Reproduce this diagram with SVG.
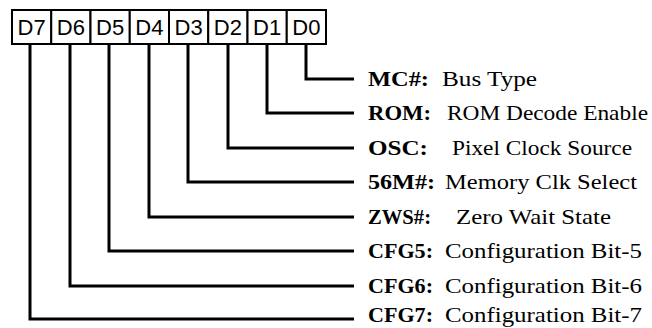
<svg xmlns="http://www.w3.org/2000/svg" width="652" height="328" viewBox="0 0 652 328">
<style>
.box{fill:#fff;stroke:#000;stroke-width:2}
.bt{font-family:"Liberation Sans",Arial,sans-serif;font-size:22px;fill:#000;text-anchor:middle}
.wire{fill:none;stroke:#000;stroke-width:3;stroke-linejoin:miter;stroke-linecap:butt}
.nm{font-family:"Liberation Serif","Times New Roman",serif;font-size:21px;font-weight:bold;fill:#000}
.ds{font-family:"Liberation Serif","Times New Roman",serif;font-size:21px;fill:#000}
</style>
<rect width="652" height="328" fill="#fff"/>
<g id="connectors">
<polyline class="wire" points="306,44 306,79 354,79"/>
<polyline class="wire" points="267,44 267,113 354,113"/>
<polyline class="wire" points="228,44 228,148 354,148"/>
<polyline class="wire" points="188,44 188,182 354,182"/>
<polyline class="wire" points="149,44 149,217 354,217"/>
<polyline class="wire" points="109,44 109,251 354,251"/>
<polyline class="wire" points="70,44 70,286 354,286"/>
<polyline class="wire" points="30,44 30,319 354,319"/>
</g>
<g id="bit-D7"><rect class="box" x="12" y="10" width="39.25" height="34"/><text class="bt" x="31.6" y="35">D7</text></g>
<g id="bit-D6"><rect class="box" x="51.25" y="10" width="39.25" height="34"/><text class="bt" x="70.9" y="35">D6</text></g>
<g id="bit-D5"><rect class="box" x="90.5" y="10" width="39.25" height="34"/><text class="bt" x="110.1" y="35">D5</text></g>
<g id="bit-D4"><rect class="box" x="129.75" y="10" width="39.25" height="34"/><text class="bt" x="149.4" y="35">D4</text></g>
<g id="bit-D3"><rect class="box" x="169" y="10" width="39.25" height="34"/><text class="bt" x="188.6" y="35">D3</text></g>
<g id="bit-D2"><rect class="box" x="208.25" y="10" width="39.25" height="34"/><text class="bt" x="227.9" y="35">D2</text></g>
<g id="bit-D1"><rect class="box" x="247.5" y="10" width="39.25" height="34"/><text class="bt" x="267.1" y="35">D1</text></g>
<g id="bit-D0"><rect class="box" x="286.75" y="10" width="39.25" height="34"/><text class="bt" x="306.4" y="35">D0</text></g>
<g id="label-MC"><text class="nm" x="368" y="86" textLength="61" lengthAdjust="spacingAndGlyphs">MC#:</text><text class="ds" x="442" y="86" textLength="95" lengthAdjust="spacingAndGlyphs">Bus Type</text></g>
<g id="label-ROM"><text class="nm" x="368" y="120" textLength="63" lengthAdjust="spacingAndGlyphs">ROM:</text><text class="ds" x="447" y="120" textLength="201" lengthAdjust="spacingAndGlyphs">ROM Decode Enable</text></g>
<g id="label-OSC"><text class="nm" x="368" y="155" textLength="60" lengthAdjust="spacingAndGlyphs">OSC:</text><text class="ds" x="452" y="155" textLength="180" lengthAdjust="spacingAndGlyphs">Pixel Clock Source</text></g>
<g id="label-56M"><text class="nm" x="368" y="189" textLength="67" lengthAdjust="spacingAndGlyphs">56M#:</text><text class="ds" x="445" y="189" textLength="192" lengthAdjust="spacingAndGlyphs">Memory Clk Select</text></g>
<g id="label-ZWS"><text class="nm" x="368" y="224" textLength="63" lengthAdjust="spacingAndGlyphs">ZWS#:</text><text class="ds" x="456" y="224" textLength="155" lengthAdjust="spacingAndGlyphs">Zero Wait State</text></g>
<g id="label-CFG5"><text class="nm" x="368" y="258" textLength="65" lengthAdjust="spacingAndGlyphs">CFG5:</text><text class="ds" x="445" y="258" textLength="197" lengthAdjust="spacingAndGlyphs">Configuration Bit-5</text></g>
<g id="label-CFG6"><text class="nm" x="368" y="293" textLength="65" lengthAdjust="spacingAndGlyphs">CFG6:</text><text class="ds" x="445" y="293" textLength="197" lengthAdjust="spacingAndGlyphs">Configuration Bit-6</text></g>
<g id="label-CFG7"><text class="nm" x="368" y="322" textLength="65" lengthAdjust="spacingAndGlyphs">CFG7:</text><text class="ds" x="445" y="322" textLength="197" lengthAdjust="spacingAndGlyphs">Configuration Bit-7</text></g>
</svg>
